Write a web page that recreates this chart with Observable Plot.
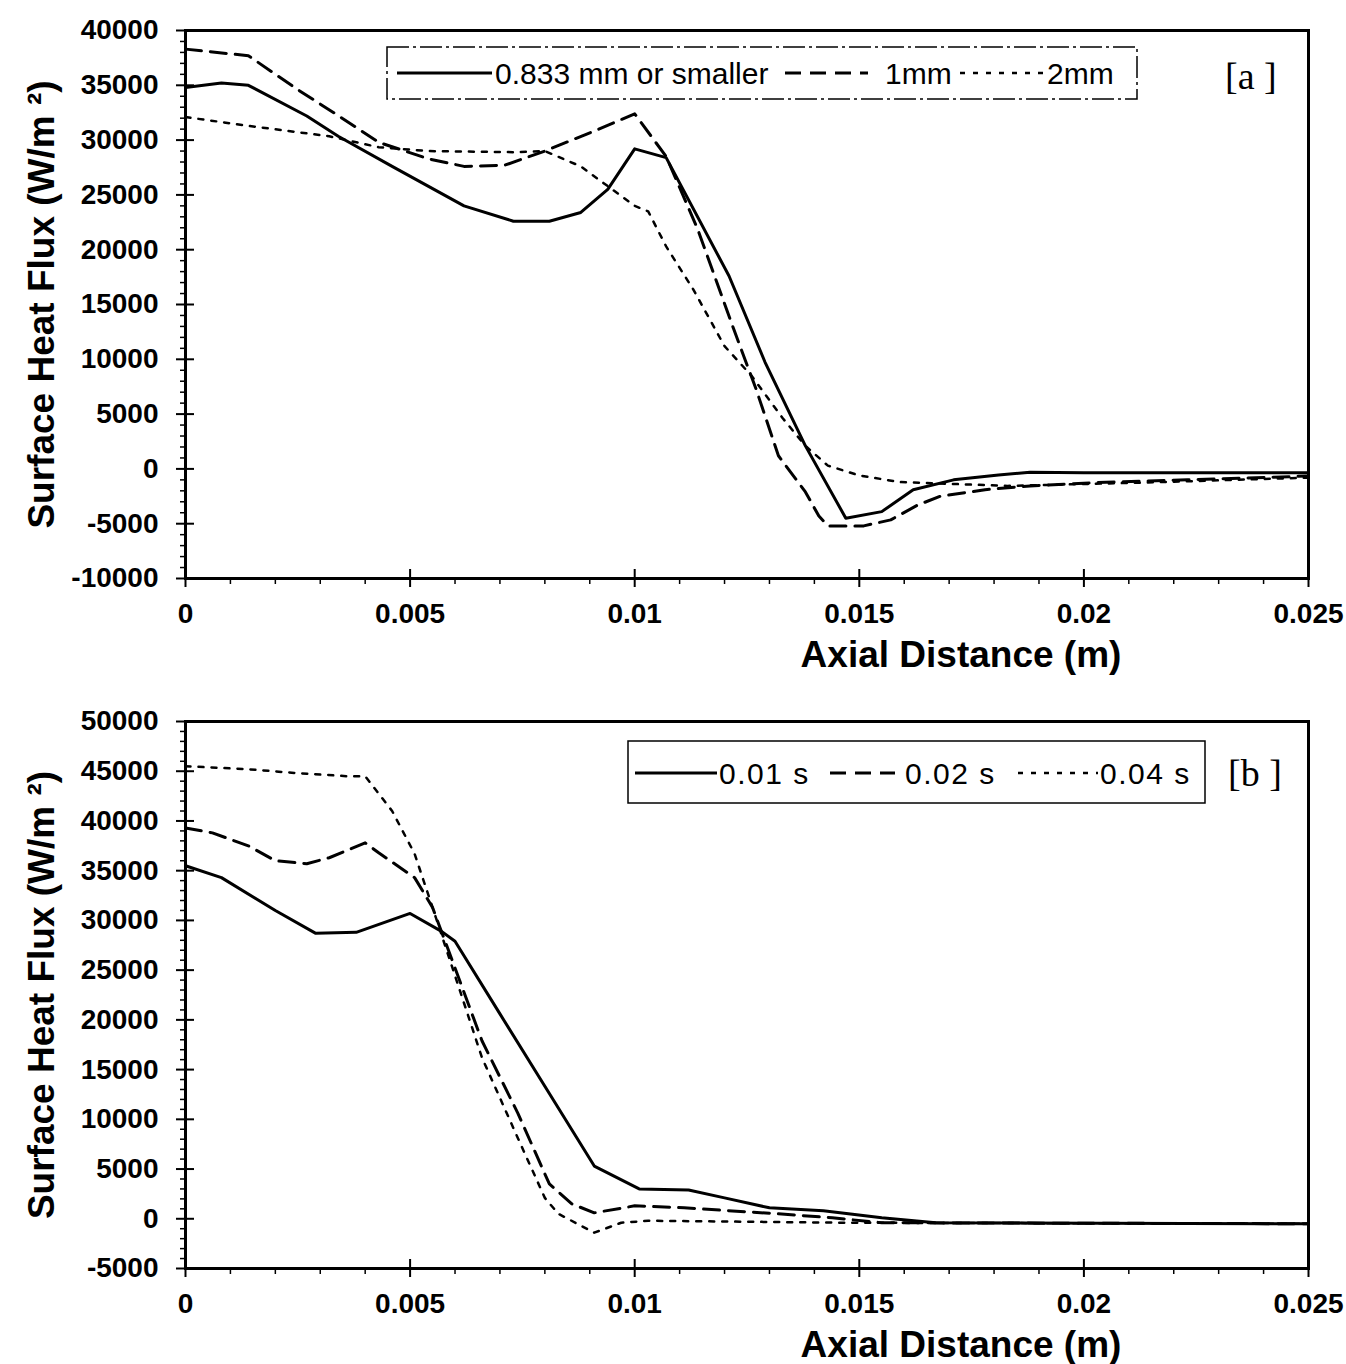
<!DOCTYPE html>
<html>
<head>
<meta charset="utf-8">
<script src="https://cdn.jsdelivr.net/npm/d3@7"></script>
<script src="https://cdn.jsdelivr.net/npm/@observablehq/plot@0.6"></script>
<style>
  html, body { margin: 0; padding: 0; background: white; }
  #wrap { position: relative; width: 1346px; height: 1364px; overflow: hidden; }
  .panel { position: relative; width: 1346px; }
  .panel svg.leg { position: absolute; left: 0; top: 0; pointer-events: none; }
</style>
</head>
<body>
<div id="wrap"></div>
<script>
// ---------- Shared axis values ----------
const xTicks = [0, 0.005, 0.01, 0.015, 0.02, 0.025];
const xTickLabels = ["0", "0.005", "0.01", "0.015", "0.02", "0.025"];
const yTicksA = [-10000, -5000, 0, 5000, 10000, 15000, 20000, 25000, 30000, 35000, 40000];
const yTicksB = [-5000, 0, 5000, 10000, 15000, 20000, 25000, 30000, 35000, 40000, 45000, 50000];
const xTitle = "Axial Distance (m)";
const yTitle = "Surface Heat Flux (W/m ²)";

// ---------- Panel [a] : grid size ----------
const aLabels = ["0.833 mm or smaller", "1mm", "2mm"];
const aSolidX = [0, 0.0008, 0.0014, 0.0027, 0.0034, 0.0046, 0.0062, 0.0073, 0.0081, 0.0088, 0.0094, 0.0100, 0.0107, 0.0121, 0.0129, 0.0138, 0.0147, 0.0155, 0.0162, 0.0171, 0.0181, 0.0188, 0.0200, 0.0250];
const aSolidY = [34800, 35200, 35000, 32200, 30350, 27600, 24000, 22600, 22600, 23400, 25500, 29200, 28400, 17600, 9750, 2100, -4500, -3900, -1900, -1000, -550, -300, -350, -350];
const aDashX = [0, 0.0014, 0.0025, 0.0033, 0.0043, 0.0054, 0.0062, 0.0071, 0.0080, 0.0092, 0.0100, 0.0107, 0.0114, 0.0122, 0.0127, 0.0132, 0.0138, 0.0141, 0.0143, 0.0151, 0.0157, 0.0163, 0.0168, 0.0178, 0.0188, 0.0203, 0.0223, 0.0250];
const aDashY = [38300, 37700, 34600, 32500, 29800, 28300, 27600, 27700, 29000, 31000, 32400, 28500, 21900, 12800, 7300, 1200, -2100, -4300, -5200, -5200, -4650, -3300, -2500, -1900, -1550, -1250, -1000, -650];
const aDotX = [0, 0.0014, 0.0032, 0.0043, 0.0054, 0.0073, 0.0080, 0.0088, 0.0095, 0.0100, 0.0103, 0.0107, 0.0113, 0.0120, 0.0126, 0.0133, 0.0138, 0.0143, 0.0150, 0.0159, 0.0183, 0.0213, 0.0250];
const aDotY = [32100, 31300, 30350, 29350, 29000, 28900, 29000, 27600, 25500, 24000, 23500, 20300, 16400, 11200, 8500, 4600, 2100, 300, -600, -1200, -1550, -1250, -800];

// ---------- Panel [b] : time step ----------
const bLabels = ["0.01 s", "0.02 s", "0.04 s"];
const bSolidX = [0, 0.0008, 0.0020, 0.0029, 0.0038, 0.0050, 0.0057, 0.0060, 0.0070, 0.0081, 0.0091, 0.0101, 0.0112, 0.0120, 0.0130, 0.0142, 0.0155, 0.0167, 0.0250];
const bSolidY = [35500, 34300, 31000, 28700, 28800, 30700, 28900, 27900, 20600, 12600, 5300, 3000, 2900, 2100, 1100, 800, 100, -400, -500];
const bDashX = [0, 0.0006, 0.0014, 0.0020, 0.0027, 0.0032, 0.0040, 0.0043, 0.0051, 0.0055, 0.0066, 0.0074, 0.0081, 0.0086, 0.0091, 0.0100, 0.0111, 0.0132, 0.0144, 0.0155, 0.0250];
const bDashY = [39300, 38800, 37500, 36000, 35700, 36300, 37800, 36800, 34300, 31300, 17900, 10600, 3500, 1500, 600, 1300, 1100, 500, 100, -400, -500];
const bDotX = [0, 0.0014, 0.0025, 0.0036, 0.0040, 0.0046, 0.0051, 0.0055, 0.0066, 0.0074, 0.0080, 0.0083, 0.0091, 0.0097, 0.0103, 0.0148, 0.0250];
const bDotY = [45500, 45200, 44800, 44500, 44500, 41000, 36700, 31300, 16200, 8100, 2100, 500, -1400, -400, -200, -400, -500];

// ---------- styles ----------
const FONT = "'Liberation Sans', Arial, Helvetica, sans-serif";
const SOLID = {stroke: "black", strokeWidth: 3};
const DASH = {stroke: "black", strokeWidth: 3, strokeDasharray: "16,9"};
const DOT = {stroke: "black", strokeWidth: 2.5, strokeDasharray: "5,8"};
const xMinor = d3.range(0, 26).map(i => i / 1000).filter(v => Math.round(v * 1000) % 5 !== 0);

function makePanel({height, marginTop, marginBottom, yDomain, yTicks, series}) {
  const yMinor = d3.range(yDomain[0], yDomain[1] + 1, 1000).filter(v => v % 5000 !== 0);
  const blank = () => "";
  return Plot.plot({
    width: 1346, height, marginLeft: 185, marginRight: 38, marginTop, marginBottom,
    style: {fontFamily: FONT, color: "black", background: "white", overflow: "visible"},
    x: {domain: [0, 0.025]},
    y: {domain: yDomain},
    marks: [
      // x axis: labels + outward major ticks
      Plot.axisX({ticks: xTicks, tickSize: 9, tickPadding: 16, strokeWidth: 2,
        tickFormat: d => xTickLabels[xTicks.indexOf(d)], fontSize: 28, fontWeight: "bold", label: null}),
      Plot.axisX({ticks: xTicks, tickSize: 9, dy: -9, strokeWidth: 2, tickFormat: blank, label: null}),
      Plot.axisX({ticks: xMinor, tickSize: 6, strokeWidth: 1.5, tickFormat: blank, label: null}),
      // y axis
      Plot.axisY({ticks: yTicks, tickSize: 9, tickPadding: 18, strokeWidth: 2,
        tickFormat: d => String(d), fontSize: 28, fontWeight: "bold", label: null}),
      Plot.axisY({ticks: yTicks, tickSize: 9, dx: 9, strokeWidth: 2, tickFormat: blank, label: null}),
      Plot.axisY({ticks: yMinor, tickSize: 5, strokeWidth: 1.5, tickFormat: blank, label: null}),
      Plot.frame({stroke: "black", strokeWidth: 3}),
      ...series.map(([xs, ys, st]) => Plot.line(xs, {x: xs, y: ys, ...st})),
      Plot.text([xTitle], {frameAnchor: "bottom", dx: 214, dy: 77, lineAnchor: "middle",
        fontSize: 37, fontWeight: "bold", fill: "black"}),
      Plot.text([yTitle], {frameAnchor: "left", dx: -143, rotate: -90, lineAnchor: "middle",
        textAnchor: "middle", fontSize: 37, fontWeight: "bold", fill: "black"})
    ]
  });
}

function legendSVG(h, box, items, tag, boxDash) {
  const ns = "http://www.w3.org/2000/svg";
  const svg = document.createElementNS(ns, "svg");
  svg.setAttribute("class", "leg");
  svg.setAttribute("width", 1346);
  svg.setAttribute("height", h);
  const el = (name, attrs, text) => {
    const e = document.createElementNS(ns, name);
    for (const k in attrs) e.setAttribute(k, attrs[k]);
    if (text != null) e.textContent = text;
    svg.appendChild(e);
    return e;
  };
  el("rect", {x: box.x, y: box.y, width: box.w, height: box.h, fill: "white", stroke: "black",
    "stroke-width": 1.5, "stroke-dasharray": boxDash || "none"});
  for (const it of items) {
    el("line", {x1: it.l0, x2: it.l1, y1: box.ly, y2: box.ly, stroke: "black",
      "stroke-width": it.st.strokeWidth, "stroke-dasharray": it.st.strokeDasharray || "none"});
    el("text", {x: it.tx, y: box.ty, "font-family": FONT, "font-size": box.fs, fill: "black",
      "letter-spacing": box.ls || 0}, it.label);
  }
  el("text", {x: tag.x, y: tag.y, "font-family": "'Liberation Serif', 'Times New Roman', serif",
    "font-size": 38, fill: "black"}, tag.text);
  return svg;
}

const wrap = document.getElementById("wrap");

// Panel a
const pa = document.createElement("div");
pa.className = "panel";
pa.appendChild(makePanel({height: 690, marginTop: 30, marginBottom: 112,
  yDomain: [-10000, 40000], yTicks: yTicksA,
  series: [[aSolidX, aSolidY, SOLID], [aDashX, aDashY, DASH], [aDotX, aDotY, DOT]]}));
pa.appendChild(legendSVG(690,
  {x: 387, y: 47, w: 750, h: 52, ly: 73, ty: 84, fs: 30},
  [{l0: 397, l1: 492, tx: 495, label: aLabels[0], st: SOLID},
   {l0: 785, l1: 868, tx: 885, label: aLabels[1], st: DASH},
   {l0: 960, l1: 1046, tx: 1047, label: aLabels[2], st: DOT}],
  {x: 1225, y: 89, text: "[a ]"}, "22,4,3,4"));
wrap.appendChild(pa);

// Panel b
const pb = document.createElement("div");
pb.className = "panel";
pb.appendChild(makePanel({height: 674, marginTop: 31, marginBottom: 96,
  yDomain: [-5000, 50000], yTicks: yTicksB,
  series: [[bSolidX, bSolidY, SOLID], [bDashX, bDashY, DASH], [bDotX, bDotY, DOT]]}));
pb.appendChild(legendSVG(674,
  {x: 628, y: 51, w: 577, h: 62, ly: 83, ty: 94, fs: 30, ls: 1.5},
  [{l0: 635, l1: 717, tx: 719, label: bLabels[0], st: SOLID},
   {l0: 830, l1: 895, tx: 905, label: bLabels[1], st: DASH},
   {l0: 1018, l1: 1098, tx: 1100, label: bLabels[2], st: DOT}],
  {x: 1228, y: 96, text: "[b ]"}, null));
wrap.appendChild(pb);
</script>
</body>
</html>
